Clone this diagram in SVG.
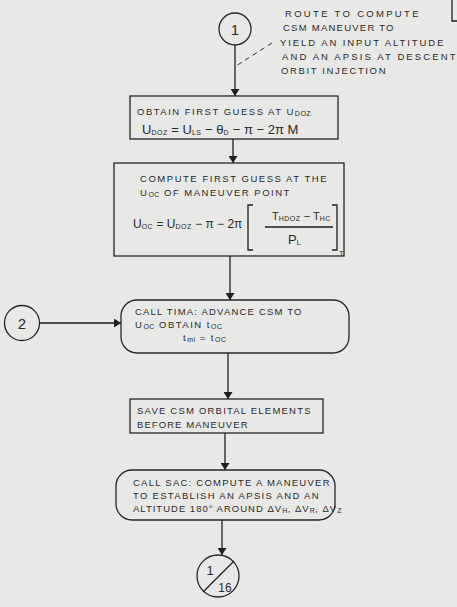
<svg xmlns="http://www.w3.org/2000/svg" width="457" height="607" viewBox="0 0 457 607">
  <defs>
    <marker id="arrow" markerWidth="7" markerHeight="9" refX="7" refY="4.5" orient="auto" markerUnits="userSpaceOnUse">
      <path d="M0,0 L7,4.5 L0,9 z" fill="#1e1e1e"/>
    </marker>
    <style>
      .bg { fill: #e8e8e6; }
      .box { fill: none; stroke: #262626; stroke-width: 1.3; }
      .conn { fill: none; stroke: #1e1e1e; stroke-width: 1.3; }
      .lead { fill: none; stroke: #333; stroke-width: 1; stroke-dasharray: 5 4; }
      .t { font-family: "Liberation Sans", Arial, sans-serif; font-size: 9.5px; fill: #2a2a2a; letter-spacing: 1.5px; }
      .m { font-family: "Liberation Sans", Arial, sans-serif; font-size: 13px; fill: #2a2a2a; }
      .sub { font-size: 7px; letter-spacing: 0.5px; }
      .num { font-family: "Liberation Sans", Arial, sans-serif; font-size: 15px; fill: #2a2a2a; text-anchor: middle; }
    </style>
  </defs>

  <rect class="bg" x="0" y="0" width="457" height="607"/>

  <!-- corner of a box running off the top-right edge -->
  <path class="conn" d="M452,0 V21 H457"/>

  <!-- connectors -->
  <g id="connectors">
    <line class="conn" x1="235" y1="45" x2="235" y2="96" marker-end="url(#arrow)"/>
    <line class="lead" x1="272" y1="43" x2="236" y2="66"/>
    <line class="conn" x1="233" y1="139" x2="233" y2="163" marker-end="url(#arrow)"/>
    <line class="conn" x1="230" y1="256" x2="230" y2="300" marker-end="url(#arrow)"/>
    <line class="conn" x1="40" y1="323" x2="121" y2="323" marker-end="url(#arrow)"/>
    <line class="conn" x1="228" y1="353" x2="228" y2="399" marker-end="url(#arrow)"/>
    <line class="conn" x1="225" y1="433" x2="225" y2="470" marker-end="url(#arrow)"/>
    <line class="conn" x1="222" y1="520" x2="222" y2="555" marker-end="url(#arrow)"/>
  </g>

  <!-- entry connector 1 with its note -->
  <g id="entry1">
    <circle class="box" cx="235" cy="29" r="16"/>
    <text class="num" x="235" y="35">1</text>
    <text class="t" x="285" y="17" textLength="135" lengthAdjust="spacing">ROUTE TO COMPUTE</text>
    <text class="t" x="283" y="31" textLength="112" lengthAdjust="spacing">CSM MANEUVER TO</text>
    <text class="t" x="280" y="46" textLength="165" lengthAdjust="spacing">YIELD AN INPUT ALTITUDE</text>
    <text class="t" x="282" y="60" textLength="175" lengthAdjust="spacing">AND AN APSIS AT DESCENT</text>
    <text class="t" x="281" y="74" textLength="106" lengthAdjust="spacing">ORBIT INJECTION</text>
  </g>

  <!-- first guess at U_DOZ -->
  <g id="firstGuess">
    <rect class="box" x="130" y="96" width="208" height="43"/>
    <text class="t" x="137" y="115">OBTAIN FIRST GUESS AT U<tspan class="sub" dy="1">DOZ</tspan></text>
    <text class="m" x="142" y="134">U<tspan class="sub" dy="1">DOZ</tspan><tspan dy="-1"> = U</tspan><tspan class="sub" dy="1">LS</tspan><tspan dy="-1"> − θ</tspan><tspan class="sub" dy="1">D</tspan><tspan dy="-1">  −  π  −  2π M</tspan></text>
  </g>

  <!-- maneuver point guess -->
  <g id="maneuverPoint">
    <rect class="box" x="114" y="163" width="230" height="93"/>
    <text class="t" x="140" y="182" textLength="188" lengthAdjust="spacing">COMPUTE FIRST GUESS AT THE</text>
    <text class="t" x="140" y="196">U<tspan class="sub" dy="1">OC</tspan><tspan dy="-1"> OF MANEUVER POINT</tspan></text>
    <text class="m" x="133" y="228" style="font-size:12px">U<tspan class="sub" dy="1">OC</tspan><tspan dy="-1"> = U</tspan><tspan class="sub" dy="1">DOZ</tspan><tspan dy="-1"> − π − 2π</tspan></text>
    <path class="conn" d="M253,205 H248 V250 H253"/>
    <path class="conn" d="M332,205 H337 V250 H332"/>
    <text class="m" x="339" y="256" style="font-size:8px">T</text>
    <text class="m" x="272" y="220" style="font-size:11px">T<tspan class="sub" dy="1">HDOZ</tspan><tspan dy="-1">  −  T</tspan><tspan class="sub" dy="1">HC</tspan></text>
    <line class="conn" x1="265" y1="227" x2="333" y2="227"/>
    <text class="m" x="288" y="244">P<tspan class="sub" dy="1">L</tspan></text>
  </g>

  <!-- entry connector 2 -->
  <g id="entry2">
    <circle class="box" cx="22" cy="323" r="17.5"/>
    <text class="num" x="22" y="329">2</text>
  </g>

  <!-- call TIMA -->
  <g id="callTima">
    <rect class="box" x="121" y="300" width="228" height="53" rx="16" ry="16"/>
    <text class="t" x="135" y="315" textLength="168" lengthAdjust="spacing">CALL TIMA: ADVANCE CSM TO</text>
    <text class="t" x="135" y="328">U<tspan class="sub" dy="1">OC</tspan><tspan dy="-1">  OBTAIN  t</tspan><tspan class="sub" dy="1">OC</tspan></text>
    <text class="t" x="183" y="341">t<tspan class="sub" dy="1">mi</tspan><tspan dy="-1"> = t</tspan><tspan class="sub" dy="1">OC</tspan></text>
  </g>

  <!-- save elements -->
  <g id="saveElements">
    <rect class="box" x="130" y="399" width="193" height="34"/>
    <text class="t" x="137" y="414" textLength="175" lengthAdjust="spacing">SAVE CSM ORBITAL ELEMENTS</text>
    <text class="t" x="137" y="428" textLength="112" lengthAdjust="spacing">BEFORE MANEUVER</text>
  </g>

  <!-- call SAC -->
  <g id="callSac">
    <rect class="box" x="116" y="470" width="219" height="50" rx="16" ry="16"/>
    <text class="t" x="133" y="486" textLength="198" lengthAdjust="spacing">CALL SAC: COMPUTE A MANEUVER</text>
    <text class="t" x="133" y="499" textLength="187" lengthAdjust="spacing">TO ESTABLISH AN APSIS AND AN</text>
    <text class="t" x="133" y="512" style="letter-spacing:1px">ALTITUDE 180° AROUND  ΔV<tspan class="sub" dy="1">H</tspan><tspan dy="-1">, ΔV</tspan><tspan class="sub" dy="1">R</tspan><tspan dy="-1">, ΔV</tspan><tspan class="sub" dy="1">Z</tspan></text>
  </g>

  <!-- off-page connector to sheet 1/16 -->
  <g id="offPage">
    <circle class="box" cx="218" cy="576" r="21"/>
    <line class="conn" x1="203" y1="592" x2="234" y2="561"/>
    <text class="num" x="210" y="575" style="font-size:13px">1</text>
    <text class="num" x="225" y="592" style="font-size:12px">16</text>
  </g>
</svg>
